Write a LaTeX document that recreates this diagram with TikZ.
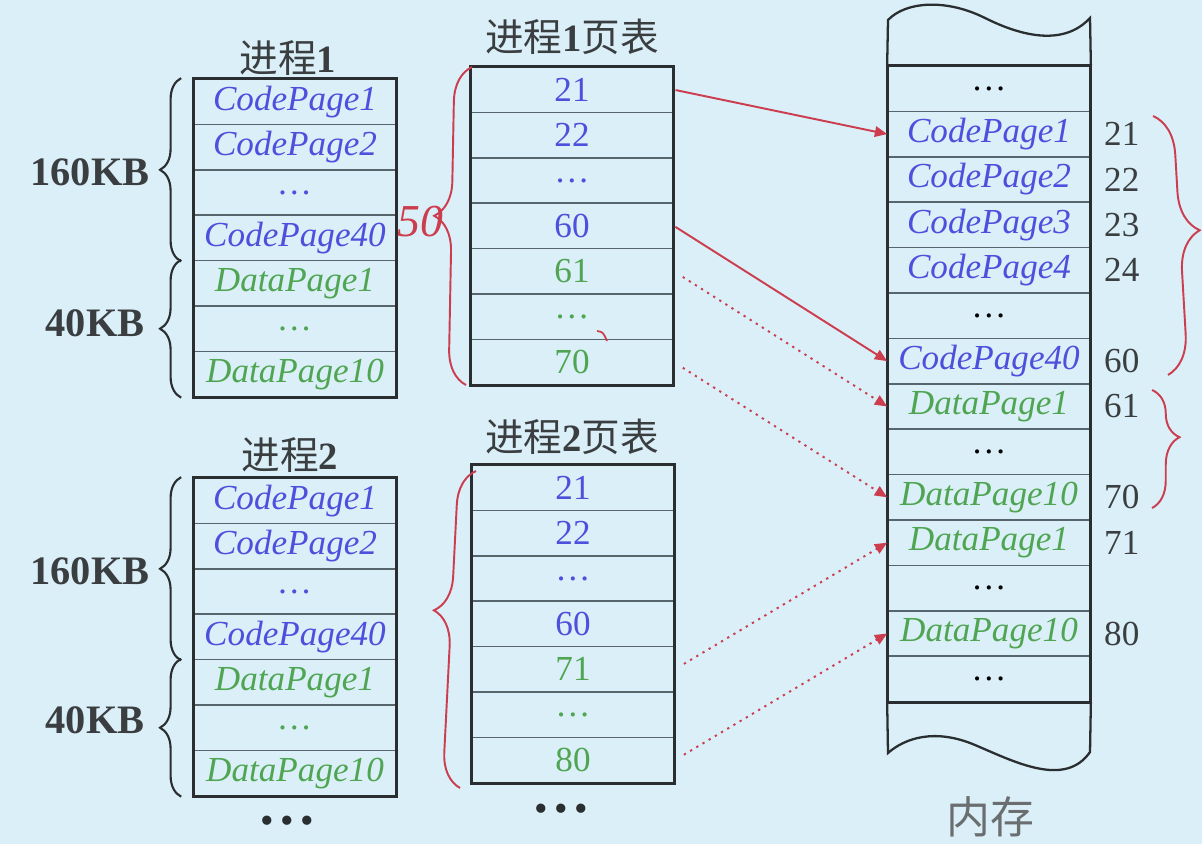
\documentclass[tikz,border=0pt]{standalone}
\usepackage{xcolor}
\usepackage{fontspec}
\setmainfont{Liberation Serif}
\newfontfamily\cjk{Noto Sans CJK SC}
\usetikzlibrary{arrows.meta, positioning, decorations.pathreplacing, calc}
\definecolor{bgblue}{HTML}{DAEFF8}
\definecolor{codeblue}{HTML}{4C50DC}
\definecolor{datagreen}{HTML}{4FA552}
\definecolor{inkred}{HTML}{CC3D4E}
\definecolor{framegray}{HTML}{2A2E31}
\definecolor{rowline}{HTML}{56666C}
\definecolor{textgray}{HTML}{3A3E40}

\newcommand{\codepg}[1]{\textcolor{codeblue}{\itshape #1}}
\newcommand{\datapg}[1]{\textcolor{datagreen}{\itshape #1}}
\newcommand{\codenum}[1]{\textcolor{codeblue}{#1}}
\newcommand{\datanum}[1]{\textcolor{datagreen}{#1}}
\newcommand{\bnum}[1]{{\rmfamily\bfseries #1}}

\tikzset{
  cell/.style={draw=rowline, line width=1pt, minimum width=4.04cm, minimum height=0.908cm,
    inner sep=0pt, font=\fontsize{20}{24}\selectfont},
  boxframe/.style={draw=framegray, line width=1.8pt},
  ptitle/.style={font=\cjk\fontsize{22}{26}\selectfont, text=textgray, inner sep=1pt},
  kb/.style={font=\fontsize{23}{27}\selectfont\bfseries, text=textgray},
  addr/.style={font=\fontsize{20}{24}\selectfont, text=textgray, inner sep=0pt},
  link/.style={inkred, line width=1.1pt, -{Triangle[length=7pt,width=6pt]}},
  dotlink/.style={link, dash pattern=on 1.3pt off 2.8pt},
  kbrace/.style={decorate, decoration={brace, amplitude=12pt}, draw=framegray, line width=1.2pt},
  redbrace/.style={decorate, draw=inkred, line width=1.1pt}
}

\begin{document}
\begin{tikzpicture}[x=0.02cm, y=-0.02cm]
  \fill[bgblue] (0,0) rectangle (1202,844);
  \useasboundingbox (0,0) rectangle (1202,844);

  % 进程1 and 进程2
  \foreach \txt [count=\i] in {\codepg{CodePage1},\codepg{CodePage2},\codepg{\dots},\codepg{CodePage40},
      \datapg{DataPage1},\datapg{\dots},\datapg{DataPage10}} {
    \node[cell] (pa\i) at (295,{79+45.4*(\i-0.5)}) {\txt};
    \node[cell] (pc\i) at (295,{478+45.4*(\i-0.5)}) {\txt};
  }
  \draw[boxframe] (pa1.north west) rectangle (pa7.south east);
  \draw[boxframe] (pc1.north west) rectangle (pc7.south east);
  \node[ptitle] (ta) at (288,58) {进程\bnum{1}};
  \node[ptitle] (tc) at (290,455) {进程\bnum{2}};

  % sizes
  \draw[kbrace] ($(pa4.south west)+(-12,0)$) -- ($(pa1.north west)+(-12,0)$);
  \draw[kbrace] ($(pa7.south west)+(-12,0)$) -- ($(pa5.north west)+(-12,0)$);
  \draw[kbrace] ($(pc4.south west)+(-12,0)$) -- ($(pc1.north west)+(-12,0)$);
  \draw[kbrace] ($(pc7.south west)+(-12,0)$) -- ($(pc5.north west)+(-12,0)$);
  \node[kb] (kba) at (90,172) {160KB};
  \node[kb] (kbb) at (95,323) {40KB};
  \node[kb] (kbc) at (90,571) {160KB};
  \node[kb] (kbd) at (95,720) {40KB};

  % page tables
  \foreach \txt [count=\i] in {\codenum{21},\codenum{22},\codenum{\dots},\codenum{60},
      \datanum{61},\datanum{\dots},\datanum{70}}
    \node[cell] (pb\i) at (572,{67+45.4*(\i-0.5)}) {\txt};
  \foreach \txt [count=\i] in {\codenum{21},\codenum{22},\codenum{\dots},\codenum{60},
      \datanum{71},\datanum{\dots},\datanum{80}}
    \node[cell] (pd\i) at (573,{465+45.4*(\i-0.5)}) {\txt};
  \draw[boxframe] (pb1.north west) rectangle (pb7.south east);
  \draw[boxframe] (pd1.north west) rectangle (pd7.south east);
  \node[ptitle] (tb) at (572,37) {进程\bnum{1}页表};
  \node[ptitle] (td) at (572,437) {进程\bnum{2}页表};

  \node[font=\fontsize{22}{26}\selectfont, text=framegray] (morec) at (287,825) {•\,•\,•};
  \node[font=\fontsize{22}{26}\selectfont, text=framegray] (mored) at (561,813) {•\,•\,•};

  % 内存
  \foreach \txt [count=\i] in {\dots,\codepg{CodePage1},\codepg{CodePage2},\codepg{CodePage3},
      \codepg{CodePage4},\dots,\codepg{CodePage40},\datapg{DataPage1},\dots,\datapg{DataPage10},
      \datapg{DataPage1},\dots,\datapg{DataPage10},\dots}
    \node[cell] (m\i) at (989,{66+45.4*(\i-0.5)}) {\txt};
  \draw[boxframe] (m1.north west) rectangle (m14.south east);
  \draw[framegray, line width=1.3pt] (m1.north west) -- (888,20)
    .. controls (905,2) and (945,-2) .. (985,18)
    .. controls (1025,38) and (1065,45) .. (1090,18) -- (m1.north east);
  \draw[framegray, line width=1.3pt] (m14.south west) -- (888,753)
    .. controls (905,738) and (935,728) .. (975,745)
    .. controls (1015,762) and (1065,788) .. (1090,752) -- (m14.south east);
  \foreach \r/\a in {2/21,3/22,4/23,5/24,7/60,8/61,10/70,11/71,13/80}
    \node[addr, right=0.26cm of m\r] (ad\r) {\a};
  \node[ptitle, font=\cjk\fontsize{25}{30}\selectfont, text=textgray!75] (mem) at (990,817) {内存};

  % mappings
  \draw[link, shorten <=1pt] (pb1.east) -- (m2.west);
  \draw[link, shorten <=1pt] (pb4.east) -- (m7.west);
  \draw[dotlink, shorten <=6pt] (pb5.east) -- (m8.west);
  \draw[dotlink, shorten <=6pt] (pb7.east) -- (m10.west);
  \draw[dotlink, shorten <=6pt] (pd5.east) -- (m11.west);
  \draw[dotlink, shorten <=6pt] (pd7.east) -- (m13.west);

  % red marks
  \draw[redbrace, decoration={brace, amplitude=0.7cm, aspect=0.53}] (466,385) -- (472,67);
  \draw[redbrace, decoration={brace, amplitude=0.7cm, aspect=0.555}] (460,788) -- (476,471);
  \draw[redbrace, decoration={brace, amplitude=0.8cm, aspect=0.45}] (1153,116) -- (1168,375);
  \draw[redbrace, decoration={brace, amplitude=0.55cm, aspect=0.4}] (1152,390) -- (1152,508);
  \node[font=\fontsize{26}{30}\selectfont\itshape, text=inkred] (fifty) at (420,222) {50};
  \draw[inkred, line width=1pt] (597,331) .. controls (603,332) .. (607,341);
\end{tikzpicture}
\end{document}
